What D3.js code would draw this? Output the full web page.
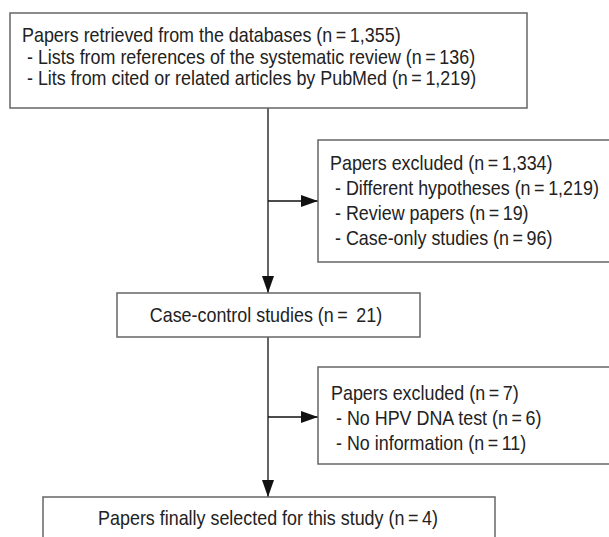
<!DOCTYPE html>
<style>
body{
  margin: 0;
  background: #fff;
}
svg text {
  font-family: "Liberation Sans", Arial, Helvetica, sans-serif;
  font-size: 20px;
  fill: #222;
}
</style>
<script src="https://d3js.org/d3.v7.min.js"></script>
<svg width="609" height="537"></svg>

<script>

// flow counts
var retrievedTitle = "Papers retrieved from the databases",
    retrievedTotal = 1355,
    sourceLabels = ["Lists from references of the systematic review", "Lits from cited or related articles by PubMed"],
    sourceCounts = [136, 1219];

var excluded1Title = "Papers excluded",
    excluded1Total = 1334,
    excluded1Labels = ["Different hypotheses", "Review papers", "Case-only studies"],
    excluded1Counts = [1219, 19, 96];

var caseControlTitle = "Case-control studies",
    caseControlTotal = 21;

var excluded2Title = "Papers excluded",
    excluded2Total = 7,
    excluded2Labels = ["No HPV DNA test", "No information"],
    excluded2Counts = [6, 11];

var finalTitle = "Papers finally selected for this study",
    finalTotal = 4;

var svg = d3.select("svg");
var fmt = d3.format(",");
var eq = "\u2009=\u2009";
var squeeze = 0.895; // the original face is a narrow grotesque

function n(v) { return "(n" + eq + fmt(v) + ")"; }
function items(labels, counts) {
  return labels.map(function(l, i) { return " - " + l + " " + n(counts[i]); });
}

// box layout: x, y, width, height, text anchor, first line centre, line step
var boxes = [
  {x: 10,  y: 13,  w: 517, h: 95,  align: "start",  tx: 22,  ty: 35,  step: 21.7,
   lines: [retrievedTitle + " " + n(retrievedTotal)].concat(items(sourceLabels, sourceCounts))},
  {x: 318, y: 140, w: 300, h: 122, align: "start",  tx: 330, ty: 163, step: 25,
   lines: [excluded1Title + " " + n(excluded1Total)].concat(items(excluded1Labels, excluded1Counts))},
  {x: 117, y: 293, w: 303, h: 44,  align: "middle", tx: 266, ty: 315, step: 0,
   lines: [caseControlTitle + " (n" + eq + " " + caseControlTotal + ")"]},
  {x: 318, y: 367, w: 300, h: 97,  align: "start",  tx: 331, ty: 393, step: 25,
   lines: [excluded2Title + " " + n(excluded2Total)].concat(items(excluded2Labels, excluded2Counts))},
  {x: 43,  y: 497, w: 452, h: 60,  align: "middle", tx: 268, ty: 518, step: 0,
   lines: [finalTitle + " " + n(finalTotal)]}
];

svg.append("defs").append("marker")
    .attr("id", "head")
    .attr("viewBox", "0 0 17 12")
    .attr("refX", 17)
    .attr("refY", 6)
    .attr("markerWidth", 17)
    .attr("markerHeight", 12)
    .attr("markerUnits", "userSpaceOnUse")
    .attr("orient", "auto")
  .append("path")
    .attr("d", "M0,0L17,6L0,12Z")
    .attr("fill", "#111");

var spineX = 268;

// main spine arrows and side arrows
var arrows = [
  [[spineX, boxes[0].y + boxes[0].h], [spineX, boxes[2].y]],
  [[spineX, 201], [boxes[1].x, 201]],
  [[spineX, boxes[2].y + boxes[2].h], [spineX, boxes[4].y]],
  [[spineX, 417], [boxes[3].x, 417]]
];

svg.selectAll("line.arrow")
  .data(arrows)
  .enter().append("line")
    .attr("class", "arrow")
    .attr("x1", function(d) { return d[0][0]; })
    .attr("y1", function(d) { return d[0][1]; })
    .attr("x2", function(d) { return d[1][0]; })
    .attr("y2", function(d) { return d[1][1]; })
    .attr("stroke", "#111")
    .attr("stroke-width", 1.3)
    .attr("marker-end", "url(#head)");

var box = svg.selectAll("g.box")
  .data(boxes)
  .enter().append("g")
    .attr("class", "box");

box.append("rect")
    .attr("x", function(d) { return d.x; })
    .attr("y", function(d) { return d.y; })
    .attr("width", function(d) { return d.w; })
    .attr("height", function(d) { return d.h; })
    .attr("fill", "none")
    .attr("stroke", "#666")
    .attr("stroke-width", 1.5);

box.each(function(d) {
  d3.select(this).selectAll("text")
    .data(d.lines)
    .enter().append("text")
      .attr("transform", function(t, i) {
        return "translate(" + d.tx + "," + (d.ty + i * d.step) + ") scale(" + squeeze + ",1)";
      })
      .attr("dy", "0.35em")
      .attr("text-anchor", d.align)
      .attr("xml:space", "preserve")
      .style("white-space", "pre")
      .text(function(t) { return t; });
});

</script>
